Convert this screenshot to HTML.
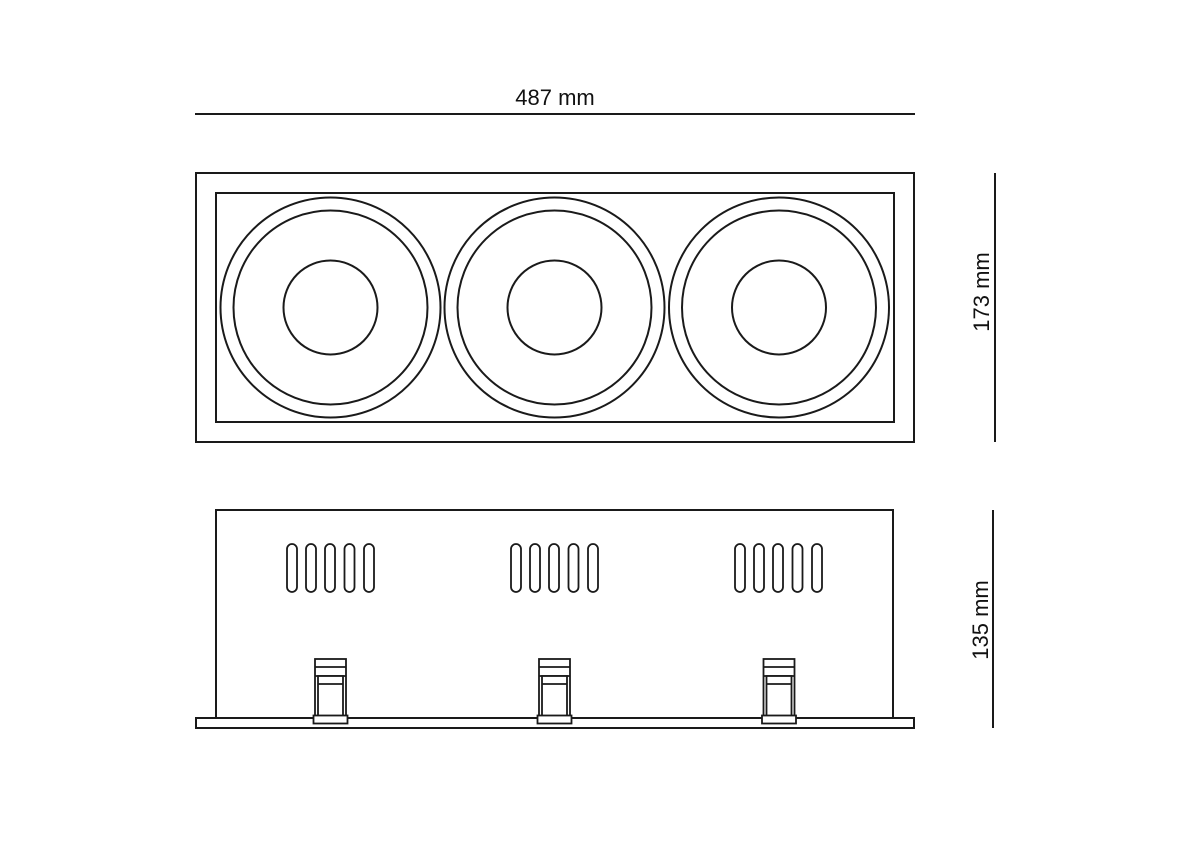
<!DOCTYPE html>
<html><head><meta charset="utf-8"><style>
html,body{margin:0;padding:0;background:#fff;}
svg{display:block;}
text{font-family:"Liberation Sans",sans-serif;font-size:22px;fill:#111;}
</style></head><body>
<svg width="1191" height="842" viewBox="0 0 1191 842" xmlns="http://www.w3.org/2000/svg">
<g fill="none" stroke="#1a1a1a" stroke-width="2">
<line x1="195" y1="114" x2="915" y2="114"/>
<rect x="196" y="173" width="718" height="269"/>
<rect x="216" y="193" width="678" height="229"/>
<circle cx="330.5" cy="307.5" r="110"/><circle cx="330.5" cy="307.5" r="97"/><circle cx="330.5" cy="307.5" r="47"/>
<circle cx="554.5" cy="307.5" r="110"/><circle cx="554.5" cy="307.5" r="97"/><circle cx="554.5" cy="307.5" r="47"/>
<circle cx="779" cy="307.5" r="110"/><circle cx="779" cy="307.5" r="97"/><circle cx="779" cy="307.5" r="47"/>
<line x1="995" y1="173" x2="995" y2="442"/>
<line x1="993" y1="510" x2="993" y2="728"/>
<polyline points="216,718 216,510 893,510 893,718"/>
<rect x="196" y="718" width="718" height="10"/>
</g>
<g fill="none" stroke="#1a1a1a" stroke-width="1.8">
<rect x="287" y="544" width="10" height="48" rx="5"/><rect x="306" y="544" width="10" height="48" rx="5"/><rect x="325" y="544" width="10" height="48" rx="5"/><rect x="344.5" y="544" width="10" height="48" rx="5"/><rect x="364" y="544" width="10" height="48" rx="5"/>
<rect x="511" y="544" width="10" height="48" rx="5"/><rect x="530" y="544" width="10" height="48" rx="5"/><rect x="549" y="544" width="10" height="48" rx="5"/><rect x="568.5" y="544" width="10" height="48" rx="5"/><rect x="588" y="544" width="10" height="48" rx="5"/>
<rect x="735" y="544" width="10" height="48" rx="5"/><rect x="754" y="544" width="10" height="48" rx="5"/><rect x="773" y="544" width="10" height="48" rx="5"/><rect x="792.5" y="544" width="10" height="48" rx="5"/><rect x="812" y="544" width="10" height="48" rx="5"/>
</g>
<g fill="#fff" stroke="#1a1a1a" stroke-width="1.8">
<g>
<rect x="315" y="659" width="31" height="57"/>
<line x1="315" y1="667" x2="346" y2="667"/>
<line x1="315" y1="676" x2="346" y2="676"/>
<rect x="318" y="676" width="25" height="40"/>
<line x1="318" y1="684" x2="343" y2="684"/>
<rect x="313.5" y="715.5" width="34" height="8"/>
</g>
<g transform="translate(224,0)">
<rect x="315" y="659" width="31" height="57"/>
<line x1="315" y1="667" x2="346" y2="667"/>
<line x1="315" y1="676" x2="346" y2="676"/>
<rect x="318" y="676" width="25" height="40"/>
<line x1="318" y1="684" x2="343" y2="684"/>
<rect x="313.5" y="715.5" width="34" height="8"/>
</g>
<g transform="translate(448.5,0)">
<rect x="315" y="659" width="31" height="57"/>
<line x1="315" y1="667" x2="346" y2="667"/>
<line x1="315" y1="676" x2="346" y2="676"/>
<rect x="318" y="676" width="25" height="40"/>
<line x1="318" y1="684" x2="343" y2="684"/>
<rect x="313.5" y="715.5" width="34" height="8"/>
</g>
</g>
<text x="555" y="105" text-anchor="middle">487 mm</text>
<text transform="translate(989,292) rotate(-90)" text-anchor="middle">173 mm</text>
<text transform="translate(988,620) rotate(-90)" text-anchor="middle">135 mm</text>
</svg>
</body></html>
